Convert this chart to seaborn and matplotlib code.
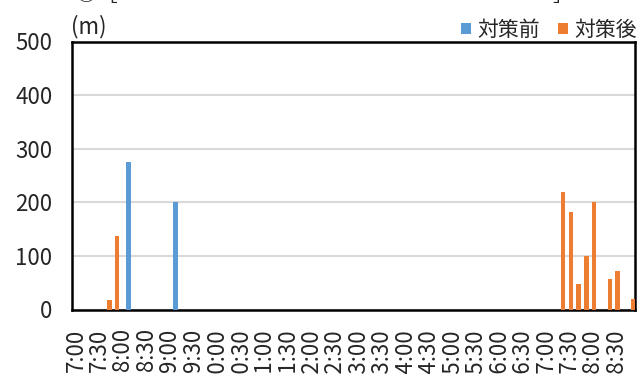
import matplotlib
matplotlib.use("Agg")
import matplotlib.pyplot as plt
import seaborn as sns
import pandas as pd

# 10-minute time slots from 7:00 to 18:50
slots = [f"{7 + m // 60}:{m % 60:02d}" for m in range(0, 12 * 60, 10)]

# Queue length (m) per slot, only non-zero slots listed
before_times = ["8:10", "9:10"]
before_vals = [275, 200]
after_times = ["7:40", "7:50", "17:20", "17:30", "17:40", "17:50",
               "18:00", "18:20", "18:30", "18:50"]
after_vals = [18, 137, 219, 181, 47, 100, 200, 57, 72, 20]

series_names = ["対策前", "対策後"]
colors = ["#5B9BD5", "#ED7D31"]

before_map = dict(zip(before_times, before_vals))
after_map = dict(zip(after_times, after_vals))
rows = []
for s in slots:
    rows.append({"time": s, "series": series_names[0], "len": before_map.get(s, 0)})
    rows.append({"time": s, "series": series_names[1], "len": after_map.get(s, 0)})
df = pd.DataFrame(rows)

sns.set_style("white")
plt.rcParams["font.family"] = ["Noto Sans CJK JP", "DejaVu Sans"]
num_font = ["Liberation Sans Narrow", "Noto Sans CJK JP", "DejaVu Sans"]

W, H = 637, 374
fig = plt.figure(figsize=(W / 100, H / 100), dpi=100)
ax = fig.add_axes([72 / W, (H - 309.5) / H, (635 - 72) / W, (309.5 - 41.5) / H])

sns.barplot(data=df, x="time", y="len", hue="series", order=slots,
            hue_order=series_names, palette=colors, width=1.14,
            saturation=1, errorbar=None, linewidth=0, ax=ax, zorder=3)

ax.set_ylim(0, 500)
ax.set_yticks(range(0, 501, 100))
ax.yaxis.grid(True, color="#d9d9d9", linewidth=1.5, zorder=0)
ax.xaxis.grid(False)
ax.set_xlim(-0.5, len(slots) - 0.5)
tick_pos = list(range(0, len(slots), 3))
ax.set_xticks(tick_pos)
ax.set_xticklabels([slots[i] for i in tick_pos], rotation=90)
ax.tick_params(axis="x", length=0, pad=13.5)
ax.tick_params(axis="y", length=0, pad=14)
for lab in ax.get_xticklabels() + ax.get_yticklabels():
    lab.set_fontfamily(num_font)
    lab.set_fontsize(16)
ax.set_xlabel("")
ax.set_ylabel("")
for sp in ax.spines.values():
    sp.set_visible(True)
    sp.set_color("black")
    sp.set_linewidth(1.8)

ax.legend_.remove()
handles, labels = ax.get_legend_handles_labels()
fig.legend(handles, labels, loc="upper left",
           bbox_to_anchor=(461 / W, 1 - 19 / H), ncol=2, frameon=False,
           fontsize=15, handlelength=0.47, handleheight=0.47,
           handletextpad=0.33, columnspacing=0.85, borderpad=0,
           borderaxespad=0)

fig.text(71 / W, 1 - 33 / H, "(m)", fontsize=16, ha="left", va="baseline")

# Chart heading above the plot
fig.text(76 / W, 1 - 1 / H, "◎［", fontsize=15, ha="left", va="baseline")
fig.text(552 / W, 1 - 1 / H, "］", fontsize=15, ha="left", va="baseline")

fig.savefig("out.png", dpi=100)
